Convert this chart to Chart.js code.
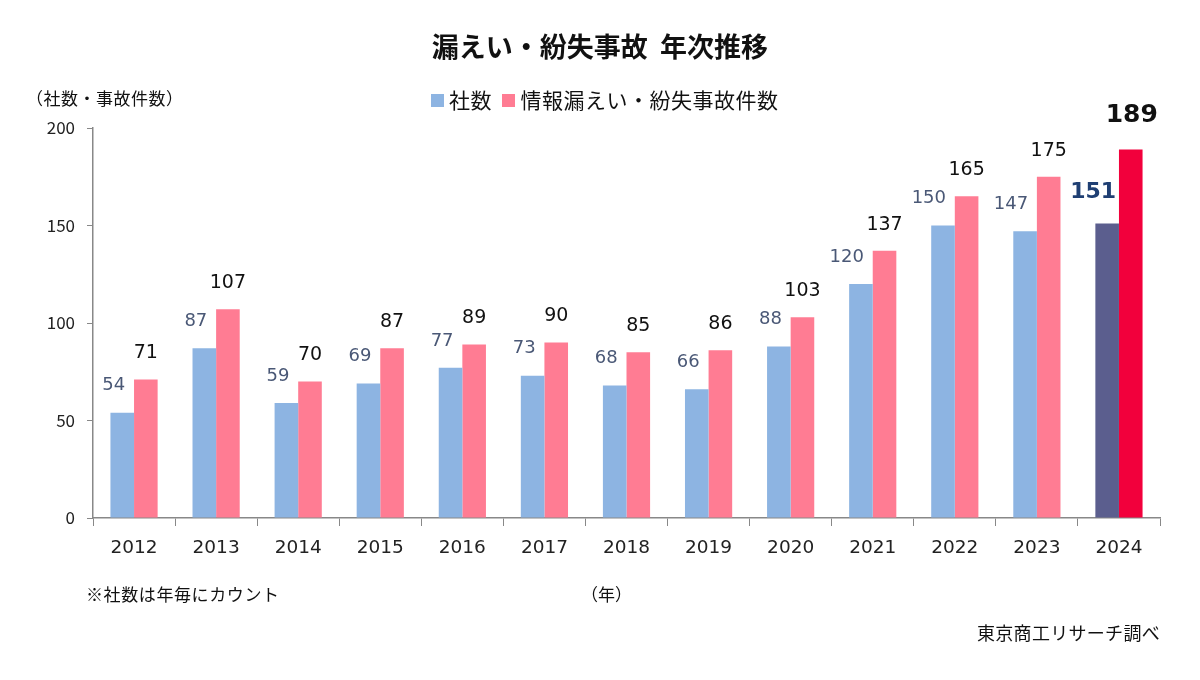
<!DOCTYPE html>
<html>
<head>
<meta charset="utf-8">
<script src="https://cdn.jsdelivr.net/npm/chart.js@4.4.1/dist/chart.umd.min.js"></script>
<style>
  body { margin: 0; background: #fff; }
  #wrap { position: relative; width: 1200px; height: 680px; font-family: "Noto Sans CJK JP", sans-serif; color: #111; }
  #grafico { position: absolute; left: 0; top: 0; }
  .txt { position: absolute; white-space: nowrap; }
  #titulo { left: 0; width: 1200px; top: 26px; text-align: center; font-size: 27px; font-weight: bold; }
  #leyenda { left: 431px; top: 84px; font-size: 21px; letter-spacing: 0.5px; }
  #leyenda span.box { display: inline-block; width: 13px; height: 13px; margin-right: 5px; vertical-align: 1px; }
  #ytitulo { left: 26px; top: 85px; font-size: 17px; letter-spacing: 0.5px; }
  #nota { left: 86px; top: 581px; font-size: 17px; letter-spacing: 0.6px; }
  #anio { left: 581px; top: 581px; font-size: 17px; }
  #fuente { right: 40px; top: 619px; font-size: 18px; letter-spacing: 0.3px; }
</style>
</head>
<body>
<div id="wrap">
  <canvas id="grafico" width="1200" height="680"></canvas>
  <div class="txt" id="titulo">漏えい・紛失事故&nbsp;&nbsp;年次推移</div>
  <div class="txt" id="leyenda"><span class="box" style="background:#8DB4E2"></span>社数&nbsp;&nbsp;<span class="box" style="background:#FF7C93"></span>情報漏えい・紛失事故件数</div>
  <div class="txt" id="ytitulo">（社数・事故件数）</div>
  <div class="txt" id="nota">※社数は年毎にカウント</div>
  <div class="txt" id="anio">（年）</div>
  <div class="txt" id="fuente">東京商工リサーチ調べ</div>
</div>
<script>
const anios = ['2012','2013','2014','2015','2016','2017','2018','2019','2020','2021','2022','2023','2024']
const sociedades = [54, 87, 59, 69, 77, 73, 68, 66, 88, 120, 150, 147, 151]
const incidentes = [71, 107, 70, 87, 89, 90, 85, 86, 103, 137, 165, 175, 189]
const ticksY = [0, 50, 100, 150, 200]

const azul = anios.map((a, i) => i == anios.length - 1 ? '#5B5E8E' : '#8DB4E2')
const rosa = anios.map((a, i) => i == anios.length - 1 ? '#F2003C' : '#FF7C93')

// etiquetas de valor encima de cada barra
const etiquetas = {
  id: 'etiquetas',
  afterDatasetsDraw(chart) {
    const ctx = chart.ctx
    const ultimo = anios.length - 1
    ctx.save()
    ctx.textBaseline = 'middle'
    chart.getDatasetMeta(0).data.forEach((bar, i) => {
      ctx.textAlign = 'right'
      if (i == ultimo) {
        ctx.font = 'bold 22px "DejaVu Sans"'
        ctx.fillStyle = '#1F3F73'
        ctx.fillText(sociedades[i], bar.x + 9, bar.y - 31)
      } else {
        ctx.font = '18px "DejaVu Sans"'
        ctx.fillStyle = '#4A5876'
        ctx.fillText(sociedades[i], bar.x + 3, bar.y - 27)
      }
    })
    chart.getDatasetMeta(1).data.forEach((bar, i) => {
      ctx.textAlign = 'center'
      ctx.fillStyle = '#111'
      if (i == ultimo) {
        ctx.font = 'bold 25px "DejaVu Sans"'
        ctx.fillText(incidentes[i], bar.x + 1, bar.y - 34)
      } else {
        ctx.font = '19px "DejaVu Sans"'
        ctx.fillText(incidentes[i], bar.x, bar.y - 26)
      }
    })
    ctx.restore()
  }
}

const config = {
  type: 'bar',
  data: {
    labels: anios,
    datasets: [
      { label: '社数', data: sociedades, backgroundColor: azul, categoryPercentage: 0.575, barPercentage: 1.0 },
      { label: '情報漏えい・紛失事故件数', data: incidentes, backgroundColor: rosa, categoryPercentage: 0.575, barPercentage: 1.0 }
    ]
  },
  options: {
    responsive: false,
    animation: false,
    layout: { padding: { left: 0, right: 40, top: 128, bottom: 112 } },
    plugins: { legend: { display: false }, tooltip: { enabled: false } },
    scales: {
      x: {
        grid: { drawOnChartArea: false, offset: true, tickLength: 8, color: '#888' },
        border: { color: '#888', width: 1.5 },
        ticks: { color: '#222', font: { family: 'DejaVu Sans', size: 18.5 }, padding: 11 },
        afterFit(scale) { scale.height = 50 }
      },
      y: {
        min: 0, max: 200,
        afterBuildTicks(scale) { scale.ticks = ticksY.map(v => ({ value: v })) },
        grid: { drawOnChartArea: false, tickLength: 6, color: '#888' },
        border: { color: '#888', width: 1.5 },
        ticks: { color: '#222', font: { family: 'Noto Sans CJK JP', size: 17 }, padding: 12 },
        afterFit(scale) { scale.width = 93 }
      }
    }
  },
  plugins: [etiquetas]
}

const myChart = new Chart(document.getElementById('grafico'), config)
</script>
</body>
</html>
